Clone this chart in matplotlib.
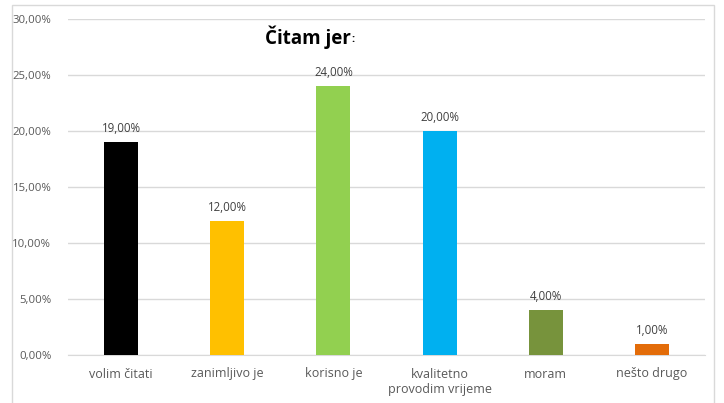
import matplotlib
matplotlib.use("Agg")
import matplotlib.pyplot as plt
from matplotlib.patches import Rectangle
from matplotlib.ticker import FuncFormatter, MultipleLocator

categories = ["volim čitati", "zanimljivo je", "korisno je", "kvalitetno\nprovodim vrijeme", "moram", "nešto drugo"]
values = [19.0, 12.0, 24.0, 20.0, 4.0, 1.0]
colors = ["#000000", "#FFC000", "#92D050", "#00B0F0", "#77933C", "#E36C09"]

plt.rcParams['font.family'] = ['Open Sans', 'DejaVu Sans']
txt = "#595959"

fig = plt.figure(figsize=(7.24, 4.03), dpi=100)
fig.patch.set_facecolor("white")
fig.patches.append(Rectangle((12/724, -0.02), (714-12)/724, 1 - 5/403 + 0.02,
                             transform=fig.transFigure, fill=False,
                             edgecolor="#D9D9D9", linewidth=1.0))

ax = fig.add_axes([68/724, 1 - 355/403, (705-68)/724, (355-19)/403])
x = list(range(len(categories)))
bars = ax.bar(x, values, width=0.32, color=colors, zorder=3)
ax.set_xlim(-0.5, len(categories) - 0.5)
ax.set_ylim(0, 30)
ax.yaxis.set_major_locator(MultipleLocator(5))
ax.yaxis.set_major_formatter(FuncFormatter(lambda v, p: f"{v:.2f}".replace(".", ",") + "%"))
ax.grid(axis="y", color="#D9D9D9", linewidth=1, zorder=0)
for s in ["top", "right", "left"]:
    ax.spines[s].set_visible(False)
ax.spines["bottom"].set_color("#D9D9D9")
ax.tick_params(axis="both", length=0, colors=txt, labelsize=8.2)
ax.tick_params(axis="y", pad=12)
ax.tick_params(axis="x", pad=9)
ax.set_xticks(x)
ax.set_xticklabels(categories, color=txt, fontsize=9, linespacing=1.25)

for xi, v in zip(x, values):
    ax.annotate(f"{v:.2f}".replace(".", ",") + "%", (xi, v), xytext=(0, 5),
                textcoords="offset points", ha="center", va="bottom",
                fontsize=8.3, color="#404040")

title = fig.text(265/724, 1 - 37/403, "Čitam jer", fontsize=13.5, fontweight="bold",
                 color="black", ha="left", va="center")
fig.canvas.draw()
bb = title.get_window_extent()
fig.text((bb.x1 + 1) / 724, 1 - 40/403, ":", fontsize=8, fontweight="bold",
         color="black", ha="left", va="center")

fig.savefig("out.png", dpi=100, facecolor="white")
